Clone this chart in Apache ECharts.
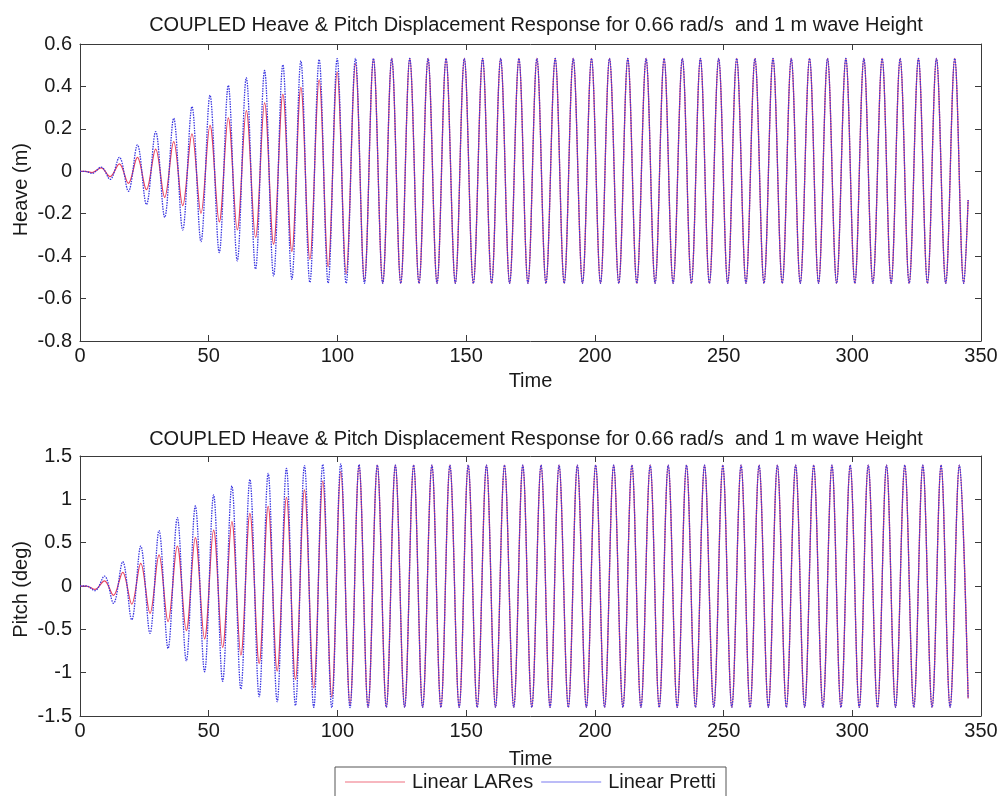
<!DOCTYPE html>
<html>
<head>
<meta charset="utf-8">
<script src="https://cdn.jsdelivr.net/npm/echarts@6/dist/echarts.min.js"></script>
<style>
html,body{margin:0;padding:0;background:#fff;}
#chart{width:1004px;height:796px;}
</style>
</head>
<body>
<div id="chart"></div>
<script>
// ---- data (extrema of each trace) ----
const titleText = 'COUPLED Heave & Pitch Displacement Response for 0.66 rad/s  and 1 m wave Height';
const seriesNames = ['Linear LARes', 'Linear Pretti'];
const xTicks = [0, 50, 100, 150, 200, 250, 300, 350];
const heaveTicks = [-0.8, -0.6, -0.4, -0.2, 0, 0.2, 0.4, 0.6];
const pitchTicks = [-1.5, -1, -0.5, 0, 0.5, 1, 1.5];

const heaveTime = [0, 2.0, 4.7,
  8.2, 11.7, 15.3, 18.8, 22.3, 25.8, 29.4, 32.9, 36.4, 39.9,
  43.5, 47.0, 50.5, 54.1, 57.6, 61.1, 64.6, 68.2, 71.7, 75.2,
  78.8, 82.3, 85.8, 89.3, 92.9, 96.4, 99.9, 103.4, 107.0, 110.5,
  114.0, 117.6, 121.1, 124.6, 128.1, 131.7, 135.2, 138.7, 142.2, 145.8,
  149.3, 152.8, 156.4, 159.9, 163.4, 166.9, 170.5, 174.0, 177.5, 181.0,
  184.6, 188.1, 191.6, 195.2, 198.7, 202.2, 205.7, 209.3, 212.8, 216.3,
  219.9, 223.4, 226.9, 230.4, 234.0, 237.5, 241.0, 244.5, 248.1, 251.6,
  255.1, 258.7, 262.2, 265.7, 269.2, 272.8, 276.3, 279.8, 283.4, 286.9,
  290.4, 293.9, 297.5, 301.0, 304.5, 308.0, 311.6, 315.1, 318.6, 322.1,
  325.7, 329.2, 332.7, 336.3, 339.8, 343.3,
  345.0];

const heavePretti = [0, 0, -0.01,
  0.02, -0.038, 0.066, -0.094, 0.124, -0.157, 0.187, -0.217, 0.25, -0.277,
  0.305, -0.332, 0.359, -0.383, 0.405, -0.422, 0.441, -0.461, 0.475, -0.493,
  0.502, -0.509, 0.52, -0.524, 0.527, -0.527, 0.531, -0.528, 0.532, -0.528,
  0.532, -0.528, 0.532, -0.528, 0.532, -0.528, 0.532, -0.528, 0.532, -0.528,
  0.532, -0.528, 0.532, -0.528, 0.532, -0.528, 0.532, -0.528, 0.532, -0.528,
  0.532, -0.528, 0.532, -0.528, 0.532, -0.528, 0.532, -0.528, 0.532, -0.528,
  0.532, -0.528, 0.532, -0.528, 0.532, -0.528, 0.532, -0.528, 0.532, -0.528,
  0.532, -0.528, 0.532, -0.528, 0.532, -0.528, 0.532, -0.528, 0.532, -0.528,
  0.532, -0.528, 0.532, -0.528, 0.532, -0.528, 0.532, -0.528, 0.532, -0.528,
  0.532, -0.528, 0.532, -0.528, 0.532, -0.528,
  -0.135];

const heaveLARes = [0, 0, -0.006,
  0.016, -0.025, 0.035, -0.057, 0.066, -0.087, 0.105, -0.123, 0.14, -0.162,
  0.176, -0.198, 0.216, -0.238, 0.252, -0.276, 0.286, -0.312, 0.323, -0.343,
  0.362, -0.378, 0.396, -0.414, 0.431, -0.45, 0.467, -0.482, 0.506, -0.516,
  0.53, -0.527, 0.532, -0.528, 0.532, -0.528, 0.532, -0.528, 0.532, -0.528,
  0.532, -0.528, 0.532, -0.528, 0.532, -0.528, 0.532, -0.528, 0.532, -0.528,
  0.532, -0.528, 0.532, -0.528, 0.532, -0.528, 0.532, -0.528, 0.532, -0.528,
  0.532, -0.528, 0.532, -0.528, 0.532, -0.528, 0.532, -0.528, 0.532, -0.528,
  0.532, -0.528, 0.532, -0.528, 0.532, -0.528, 0.532, -0.528, 0.532, -0.528,
  0.532, -0.528, 0.532, -0.528, 0.532, -0.528, 0.532, -0.528, 0.532, -0.528,
  0.532, -0.528, 0.532, -0.528, 0.532, -0.528,
  -0.135];

const pitchTime = [0, 2.5, 5.8,
  9.5, 13.0, 16.6, 20.1, 23.6, 27.2, 30.7, 34.2, 37.8, 41.3,
  44.8, 48.4, 51.9, 55.4, 59.0, 62.5, 66.0, 69.6, 73.1, 76.6,
  80.2, 83.7, 87.2, 90.8, 94.3, 97.8, 101.3, 104.9, 108.4, 111.9,
  115.5, 119.0, 122.5, 126.1, 129.6, 133.1, 136.7, 140.2, 143.7, 147.3,
  150.8, 154.3, 157.9, 161.4, 164.9, 168.5, 172.0, 175.5, 179.1, 182.6,
  186.1, 189.7, 193.2, 196.7, 200.3, 203.8, 207.3, 210.9, 214.4, 217.9,
  221.5, 225.0, 228.5, 232.0, 235.6, 239.1, 242.6, 246.2, 249.7, 253.2,
  256.8, 260.3, 263.8, 267.4, 270.9, 274.4, 278.0, 281.5, 285.0, 288.6,
  292.1, 295.6, 299.2, 302.7, 306.2, 309.8, 313.3, 316.8, 320.4, 323.9,
  327.4, 331.0, 334.5, 338.0, 341.6,
  345.0];

const pitchPretti = [0, 0, -0.054,
  0.115, -0.2, 0.28, -0.39, 0.46, -0.546, 0.64, -0.72, 0.79, -0.865,
  0.923, -0.99, 1.05, -1.1, 1.154, -1.19, 1.23, -1.277, 1.3, -1.335,
  1.358, -1.38, 1.39, -1.4, 1.404, -1.404, 1.408, -1.404, 1.4, -1.4,
  1.395, -1.4, 1.395, -1.4, 1.395, -1.4, 1.395, -1.4, 1.395, -1.4,
  1.395, -1.4, 1.395, -1.4, 1.395, -1.4, 1.395, -1.4, 1.395, -1.4,
  1.395, -1.4, 1.395, -1.4, 1.395, -1.4, 1.395, -1.4, 1.395, -1.4,
  1.395, -1.4, 1.395, -1.4, 1.395, -1.4, 1.395, -1.4, 1.395, -1.4,
  1.395, -1.4, 1.395, -1.4, 1.395, -1.4, 1.395, -1.4, 1.395, -1.4,
  1.395, -1.4, 1.395, -1.4, 1.395, -1.4, 1.395, -1.4, 1.395, -1.4,
  1.395, -1.4, 1.395, -1.4, 1.395,
  -1.296];

const pitchLARes = [0, 0, -0.04,
  0.06, -0.108, 0.158, -0.208, 0.26, -0.315, 0.358, -0.41, 0.46, -0.515,
  0.558, -0.61, 0.646, -0.708, 0.742, -0.796, 0.838, -0.892, 0.92, -0.98,
  1.023, -1.077, 1.11, -1.175, 1.21, -1.28, 1.32, -1.37, 1.395, -1.4,
  1.395, -1.4, 1.395, -1.4, 1.395, -1.4, 1.395, -1.4, 1.395, -1.4,
  1.395, -1.4, 1.395, -1.4, 1.395, -1.4, 1.395, -1.4, 1.395, -1.4,
  1.395, -1.4, 1.395, -1.4, 1.395, -1.4, 1.395, -1.4, 1.395, -1.4,
  1.395, -1.4, 1.395, -1.4, 1.395, -1.4, 1.395, -1.4, 1.395, -1.4,
  1.395, -1.4, 1.395, -1.4, 1.395, -1.4, 1.395, -1.4, 1.395, -1.4,
  1.395, -1.4, 1.395, -1.4, 1.395, -1.4, 1.395, -1.4, 1.395, -1.4,
  1.395, -1.4, 1.395, -1.4, 1.395,
  -1.296];

// ---- chart ----
const FONT = '"Liberation Sans", Arial, sans-serif';
const FS = 20;
const TXT = '#1a1a1a';
const AXC = '#3a3a3a';
const RED = '#e8405c';
const BLUE = '#3a36e0';
const SMOOTH = 0.363;

function pairs(t, v) { return t.map((x, i) => [x, v[i]]); }

function xAxisPair(gi, nameGap) {
  return [
    { gridIndex: gi, type: 'value', position: 'bottom', min: xTicks[0], max: xTicks[xTicks.length - 1], interval: 50,
      name: 'Time', nameLocation: 'middle', nameGap: nameGap,
      nameTextStyle: { fontFamily: FONT, fontSize: FS, color: TXT },
      axisLine: { onZero: false, lineStyle: { color: AXC, width: 1 } },
      axisTick: { inside: true, length: 6, lineStyle: { color: AXC } },
      axisLabel: { fontFamily: FONT, fontSize: FS, color: TXT, margin: 5 },
      splitLine: { show: false } },
    { gridIndex: gi, type: 'value', position: 'top', min: xTicks[0], max: xTicks[xTicks.length - 1], interval: 50,
      axisLine: { onZero: false, lineStyle: { color: AXC, width: 1 } },
      axisTick: { inside: true, length: 6, lineStyle: { color: AXC } },
      axisLabel: { show: false }, splitLine: { show: false } }
  ];
}
function yAxisPair(gi, ticks, interval) {
  const base = { gridIndex: gi, type: 'value', min: ticks[0], max: ticks[ticks.length - 1], interval: interval,
    axisLine: { show: true, onZero: false, lineStyle: { color: AXC, width: 1 } },
    axisTick: { show: true, inside: true, length: 6, lineStyle: { color: AXC } },
    splitLine: { show: false } };
  return [
    Object.assign({}, base, { position: 'left',
      axisLabel: { fontFamily: FONT, fontSize: FS, color: TXT, margin: 8 } }),
    Object.assign({}, base, { position: 'right', axisLabel: { show: false } })
  ];
}

const xAxes = xAxisPair(0, 30).concat(xAxisPair(1, 33));
const yAxes = yAxisPair(0, heaveTicks, 0.2).concat(yAxisPair(1, pitchTicks, 0.5));

function lineSeries(name, xi, yi, t, v, color, dotted, z) {
  return {
    name: name, type: 'line', xAxisIndex: xi, yAxisIndex: yi,
    data: pairs(t, v), showSymbol: false, symbol: 'none', smooth: SMOOTH,
    animation: false, z: z,
    lineStyle: { color: color, width: dotted ? 1.3 : 1.25, type: dotted ? [1.5, 1.1] : 'solid' },
    itemStyle: { color: color }
  };
}

const option = {
  backgroundColor: '#ffffff',
  animation: false,
  title: [
    { text: titleText, left: 531, top: 10, textAlign: 'center',
      textStyle: { fontFamily: FONT, fontSize: FS, fontWeight: 'normal', color: TXT } },
    { text: titleText, left: 531, top: 424, textAlign: 'center',
      textStyle: { fontFamily: FONT, fontSize: FS, fontWeight: 'normal', color: TXT } }
  ],
  grid: [
    { left: 80, right: 23, top: 44, height: 297 },
    { left: 80, right: 23, top: 456, height: 260 }
  ],
  xAxis: xAxes,
  yAxis: yAxes,
  legend: {
    left: 335, top: 767, orient: 'horizontal',
    data: [
      { name: seriesNames[0], icon: 'rect', itemStyle: { color: '#f07080' } },
      { name: seriesNames[1], icon: 'rect', itemStyle: { color: '#7a7af0' } }
    ],
    itemWidth: 60, itemHeight: 1.2, itemGap: 8,
    padding: [5, 10, 12, 10],
    borderColor: '#555', borderWidth: 1,
    textStyle: { fontFamily: FONT, fontSize: FS, color: TXT, padding: [0, 0, 0, 2] }
  },
  graphic: [
    { type: 'text', left: 11, top: 143, rotation: Math.PI / 2,
      style: { text: 'Heave (m)', fontFamily: FONT, fontSize: FS, fill: TXT } },
    { type: 'text', left: 11, top: 541, rotation: Math.PI / 2,
      style: { text: 'Pitch (deg)', fontFamily: FONT, fontSize: FS, fill: TXT } }
  ],
  series: [
    lineSeries(seriesNames[0], 0, 0, heaveTime, heaveLARes, RED, false, 2),
    lineSeries(seriesNames[1], 0, 0, heaveTime, heavePretti, BLUE, true, 3),
    lineSeries(seriesNames[0], 2, 2, pitchTime, pitchLARes, RED, false, 2),
    lineSeries(seriesNames[1], 2, 2, pitchTime, pitchPretti, BLUE, true, 3)
  ]
};

const chart = echarts.init(document.getElementById('chart'), null, { renderer: 'canvas' });
chart.setOption(option);
</script>
</body>
</html>
